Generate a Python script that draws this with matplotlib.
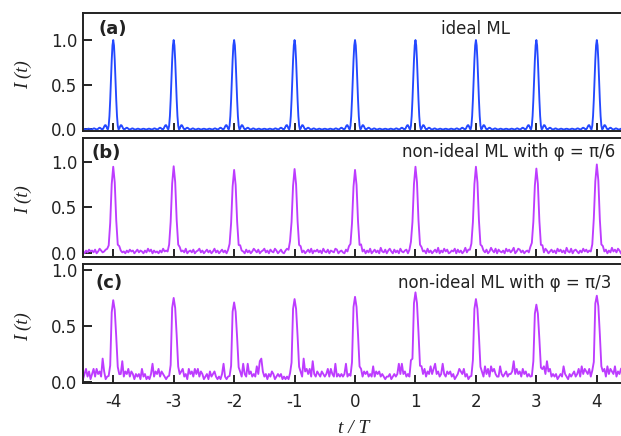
import numpy as np
import matplotlib
matplotlib.use("Agg")
import matplotlib.pyplot as plt

# ---------------- data ----------------
x_ticks = [-4, -3, -2, -1, 0, 1, 2, 3, 4]
x_tick_labels = ["-4", "-3", "-2", "-1", "0", "1", "2", "3", "4"]
y_ticks = [0.0, 0.5, 1.0]
y_tick_labels = ["0.0", "0.5", "1.0"]
pulse_centers = [-4, -3, -2, -1, 0, 1, 2, 3, 4]

panel_tags = ["(a)", "(b)", "(c)"]
panel_titles = ["ideal ML", "non-ideal ML with φ = π/6", "non-ideal ML with φ = π/3"]
x_label = "t / T"
y_label = "I (t)"

t_start = -4.5
t_end = 4.4

# (a) ideal mode-locking: one half-period profile, offsets 0 .. 0.5 T in steps of 0.0125 T
step_a = 0.0125
heights_a = [1.0, 1.0, 1.0, 1.0, 1.0, 1.0, 1.0, 1.0, 1.0]
profile_a = [1.0, 0.94, 0.775, 0.554, 0.33, 0.15, 0.042, 0.002, 0.008, 0.032,
             0.048, 0.047, 0.032, 0.013, 0.002, 0.001, 0.008, 0.016, 0.020, 0.016,
             0.008, 0.002, 0.0, 0.003, 0.008, 0.012, 0.011, 0.006, 0.002, 0.0,
             0.001, 0.005, 0.008, 0.009, 0.006, 0.003, 0.0, 0.001, 0.004, 0.007,
             0.008]

# (b) and (c): sampled every 0.025 T
step_bc = 0.025
heights_b = [0.945, 0.95, 0.91, 0.92, 0.91, 0.945, 0.945, 0.925, 0.97]
shape_offsets_b = [-0.1, -0.075, -0.05, -0.025, 0.0, 0.025, 0.05, 0.075, 0.1]
shape_b = [0.02, 0.08, 0.35, 0.8, 1.0, 0.82, 0.38, 0.1, 0.03]
noise_unit_b = 0.01
noise_b = [
    "20314231402531243100",
    "0000531203142302413203152403120315230210",
    "0000423150231402351302413025130241302310",
    "0000632041302531402351304215302410352620",
    "0000513024150324130521403215402310426310",
    "0000724031502413062140352041305213402510",
    "0000423051302416031524013250413026142310",
    "0000531402631504213052413602541302315420",
    "0000615302413052413062150342031524130241",
    "00005240316241530",
]

heights_c = [0.73, 0.75, 0.71, 0.74, 0.76, 0.80, 0.74, 0.69, 0.77]
shape_offsets_c = [-0.075, -0.05, -0.025, 0.0, 0.025, 0.05, 0.075, 0.1]
shape_c = [0.04, 0.2, 0.85, 1.0, 0.85, 0.55, 0.15, 0.03]
noise_unit_c = 0.023
noise_c = [
    "13524135253429412100",
    "0101238243524313231523121372435243212101",
    "0101245231534253524312314234212137212101",
    "0101327327342326389423132431232312121211",
    "0101329453528324324323525327232323723111",
    "0101424342326243423212231232373734232721",
    "0101535243635734237324342312354352312121",
    "0101326352645322632342334835342534232121",
    "0101463845232312326321323423526354352312",
    "01013526354362435",
]

color_a = "#2448ff"
color_bc = "#bd3cff"

# ---------------- build series ----------------
n_a = int(round((t_end - t_start) / step_a)) + 1
t_a = t_start + step_a * np.arange(n_a)
nearest_a = np.round(t_a)
idx_a = np.round(np.abs(t_a - nearest_a) / step_a).astype(int)
pulse_idx_a = np.clip((nearest_a - pulse_centers[0]).astype(int), 0, len(heights_a) - 1)
I_a = np.array(heights_a)[pulse_idx_a] * np.array(profile_a)[idx_a]


def build(noise_parts, unit, heights, offsets, shape):
    s = "".join(noise_parts)
    vals = np.array([int(ch, 36) for ch in s], dtype=float) * unit
    t = t_start + step_bc * np.arange(len(vals))
    for c, h in zip(pulse_centers, heights):
        for off, sv in zip(offsets, shape):
            k = int(round((c + off - t_start) / step_bc))
            if 0 <= k < len(vals):
                vals[k] += h * sv
    return t, vals


t_b, I_b = build(noise_b, noise_unit_b, heights_b, shape_offsets_b, shape_b)
t_c, I_c = build(noise_c, noise_unit_c, heights_c, shape_offsets_c, shape_c)

# ---------------- figure ----------------
W, H = 621, 436
fig = plt.figure(figsize=(W / 100, H / 100), dpi=100)

def px_axes(top, bottom, left=83, right=621):
    return [left / W, 1 - bottom / H, (right - left) / W, (bottom - top) / H]

axes_px = [(13, 131), (137.7, 256.5), (264.3, 383.3)]
ylims = [(-0.017, 1.302), (-0.035, 1.262), (-0.014, 1.051)]
series = [(t_a, I_a, color_a), (t_b, I_b, color_bc), (t_c, I_c, color_bc)]
tag_pos = [(0.028, 0.864), (0.016, 0.869), (0.024, 0.84)]
title_pos = [(0.730, 0.862, "center"), (0.989, 0.882, "right"), (0.983, 0.84, "right")]
ylabel_y = [75, 200, 326.7]

spine_c = "#222222"
for i in range(3):
    ax = fig.add_axes(px_axes(*axes_px[i]))
    t, y, col = series[i]
    ax.plot(t, y, color=col, lw=1.35, solid_joinstyle="round")
    ax.set_xlim(t_start, t_end)
    ax.set_ylim(*ylims[i])
    ax.spines["right"].set_visible(False)
    for sp in ["left", "top", "bottom"]:
        ax.spines[sp].set_linewidth(1.4)
        ax.spines[sp].set_color(spine_c)
    ax.set_xticks(x_ticks)
    ax.set_yticks(y_ticks)
    ax.set_yticklabels(y_tick_labels)
    if i == 2:
        ax.set_xticklabels(x_tick_labels)
    else:
        ax.set_xticklabels([])
    ax.tick_params(axis="x", direction="in", length=5.5, width=1.2, colors="black",
                   labelsize=12, pad=7, top=False, labelcolor="#222222")
    ax.tick_params(axis="y", direction="in", length=6.5, width=1.2, colors="black",
                   labelsize=12, pad=4, right=False, labelcolor="#222222")
    ax.text(tag_pos[i][0], tag_pos[i][1], panel_tags[i], transform=ax.transAxes,
            fontsize=13, fontweight="bold", ha="left", va="center", color="#222222")
    tx, ty, ha = title_pos[i]
    ax.text(tx, ty, panel_titles[i], transform=ax.transAxes, fontsize=12,
            ha=ha, va="center", color="#222222")
    fig.text(23 / W, 1 - ylabel_y[i] / H, y_label, rotation=90, ha="center", va="center",
             fontsize=13.5, family="Liberation Serif", style="italic", color="#222222")

fig.text(354 / W, 1 - 428 / H, x_label, ha="center", va="center", fontsize=14,
         family="Liberation Serif", style="italic", color="#222222")

fig.savefig("out.png", dpi=100)
